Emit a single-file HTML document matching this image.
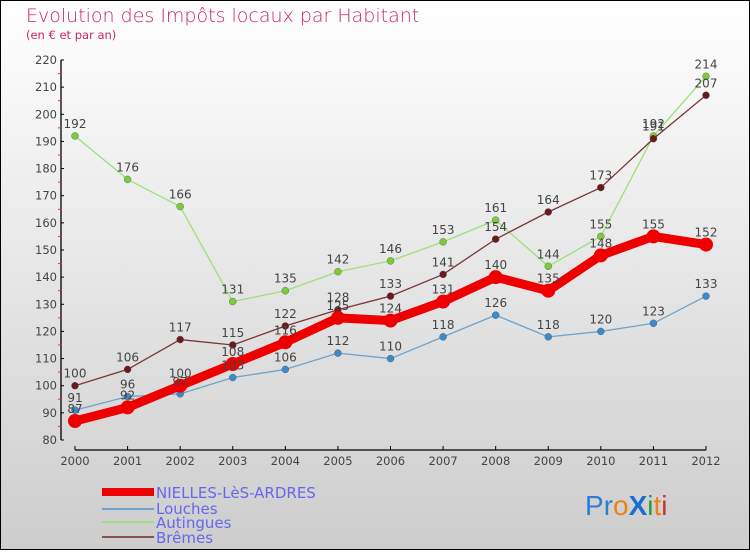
<!DOCTYPE html>
<html><head><meta charset="utf-8"><style>
body{margin:0}
#c{width:750px;height:550px;position:relative;font-family:"DejaVu Sans","Liberation Sans",sans-serif}
</style></head><body>
<div id="c">
<svg id="s" width="750" height="550" xmlns="http://www.w3.org/2000/svg">
<defs><linearGradient id="bg" x1="0" y1="0" x2="0" y2="1"><stop offset="0" stop-color="#ffffff"/><stop offset="1" stop-color="#cdcdcd"/></linearGradient></defs>
<rect x="0.5" y="0.5" width="749" height="549" fill="url(#bg)" stroke="#000"/>
<text x="26" y="22" font-size="19" fill="#c8285a" font-weight="300">Evolution des Impôts locaux par Habitant</text>
<text x="26" y="39" font-size="11.5" fill="#c8285a">(en € et par an)</text>
<g id="axes"></g><g id="series"></g><g id="labels"></g>
<g>
<rect x="102" y="488" width="52" height="8" fill="#e00"/>
<text x="156" y="498" font-size="15" fill="#6666ee">NIELLES-LèS-ARDRES</text>
<rect x="102" y="508" width="52" height="2" fill="#6fa3cc"/>
<text x="156" y="514" font-size="15" fill="#6666ee">Louches</text>
<rect x="102" y="521" width="52" height="2" fill="#9de07a"/>
<text x="156" y="528" font-size="15" fill="#6666ee">Autingues</text>
<rect x="102" y="536" width="52" height="2" fill="#8a5050"/>
<text x="156" y="543" font-size="15" fill="#6666ee">Brêmes</text>
</g>
<g font-size="28" font-family="Liberation Sans,sans-serif">
<text x="585" y="515"><tspan fill="#2a7fd4">P</tspan><tspan fill="#2a7fd4">r</tspan><tspan fill="#f08010">o</tspan><tspan fill="#1a6fd0" font-weight="bold">X</tspan><tspan fill="#2a9a3a">i</tspan><tspan fill="#f08010">t</tspan><tspan fill="#d03030">i</tspan></text>
</g>
</svg></div>
<script>
const years=[2000,2001,2002,2003,2004,2005,2006,2007,2008,2009,2010,2011,2012];
const nielles=[87,92,100,108,116,125,124,131,140,135,148,155,152];
const louches=[91,96,97,103,106,112,110,118,126,118,120,123,133];
const autingues=[192,176,166,131,135,142,146,153,161,144,155,192,214];
const bremes=[100,106,117,115,122,128,133,141,154,164,173,191,207];
const yTicks=[80,90,100,110,120,130,140,150,160,170,180,190,200,210,220];
const NS="http://www.w3.org/2000/svg";
const X0=75,X1=706,Y0=440,Y1=60,ymin=80,ymax=220;
function xs(i){return X0+(X1-X0)*i/(years.length-1);}
function ys(v){return Y0-(v-ymin)*(Y0-Y1)/(ymax-ymin);}
function mk(tag,attrs,parent){const e=document.createElementNS(NS,tag);for(const k in attrs)e.setAttribute(k,attrs[k]);parent.appendChild(e);return e;}
const axes=document.getElementById('axes'),ser=document.getElementById('series'),lab=document.getElementById('labels');
let ya=mk('line',{x1:61,x2:61,y1:Y1,y2:Y0,stroke:'#000','stroke-width':1.3},axes);

yTicks.forEach((t,i)=>{
 const y=ys(t);
 mk('line',{x1:61,x2:64,y1:y,y2:y,stroke:'#000'},axes);
 if(i<yTicks.length-1){const ym=ys(t+5);mk('line',{x1:58,x2:61,y1:ym,y2:ym,stroke:'#e33'},axes);}
 const tx=mk('text',{x:57,y:y+4,'font-size':11.5,fill:'#444','text-anchor':'end'},axes);tx.textContent=t;
 
});
let xa=mk('line',{x1:X0,x2:X1,y1:450,y2:450,stroke:'#000','stroke-width':1.3},axes);

years.forEach((yr,i)=>{
 const x=xs(i);mk('line',{x1:x,x2:x,y1:446,y2:450,stroke:'#000'},axes);
 const tx=mk('text',{x:x,y:465,'font-size':11.5,fill:'#444','text-anchor':'middle'},axes);tx.textContent=yr;
 
});
function series(name,data,color,w,r,mcol){
 const g=mk('g',{},ser);
 
 const pl=mk('polyline',{points:data.map((v,i)=>xs(i)+','+ys(v)).join(' '),fill:'none',stroke:color,'stroke-width':w,'stroke-linejoin':'round'},g);
 
 data.forEach((v,i)=>{
  const c=mk('circle',{cx:xs(i),cy:ys(v),r:r,fill:mcol,stroke:w>3?'none':'#555','stroke-width':0.4},g);
  
  const t=mk('text',{x:xs(i),y:ys(v)-8,'font-size':12,fill:'#444','text-anchor':'middle'},lab);t.textContent=v;
  
 });
}
series('autingues',autingues,'#9de07a',1.3,3.5,'#7ccc3a');
series('bremes',bremes,'#7a3535',1.3,3.5,'#6a1a1a');
series('louches',louches,'#6fa3cc',1.3,3.5,'#3a8ad0');
series('nielles',nielles,'#ee0000',9,7,'#ee0000');
</script>
</body></html>
